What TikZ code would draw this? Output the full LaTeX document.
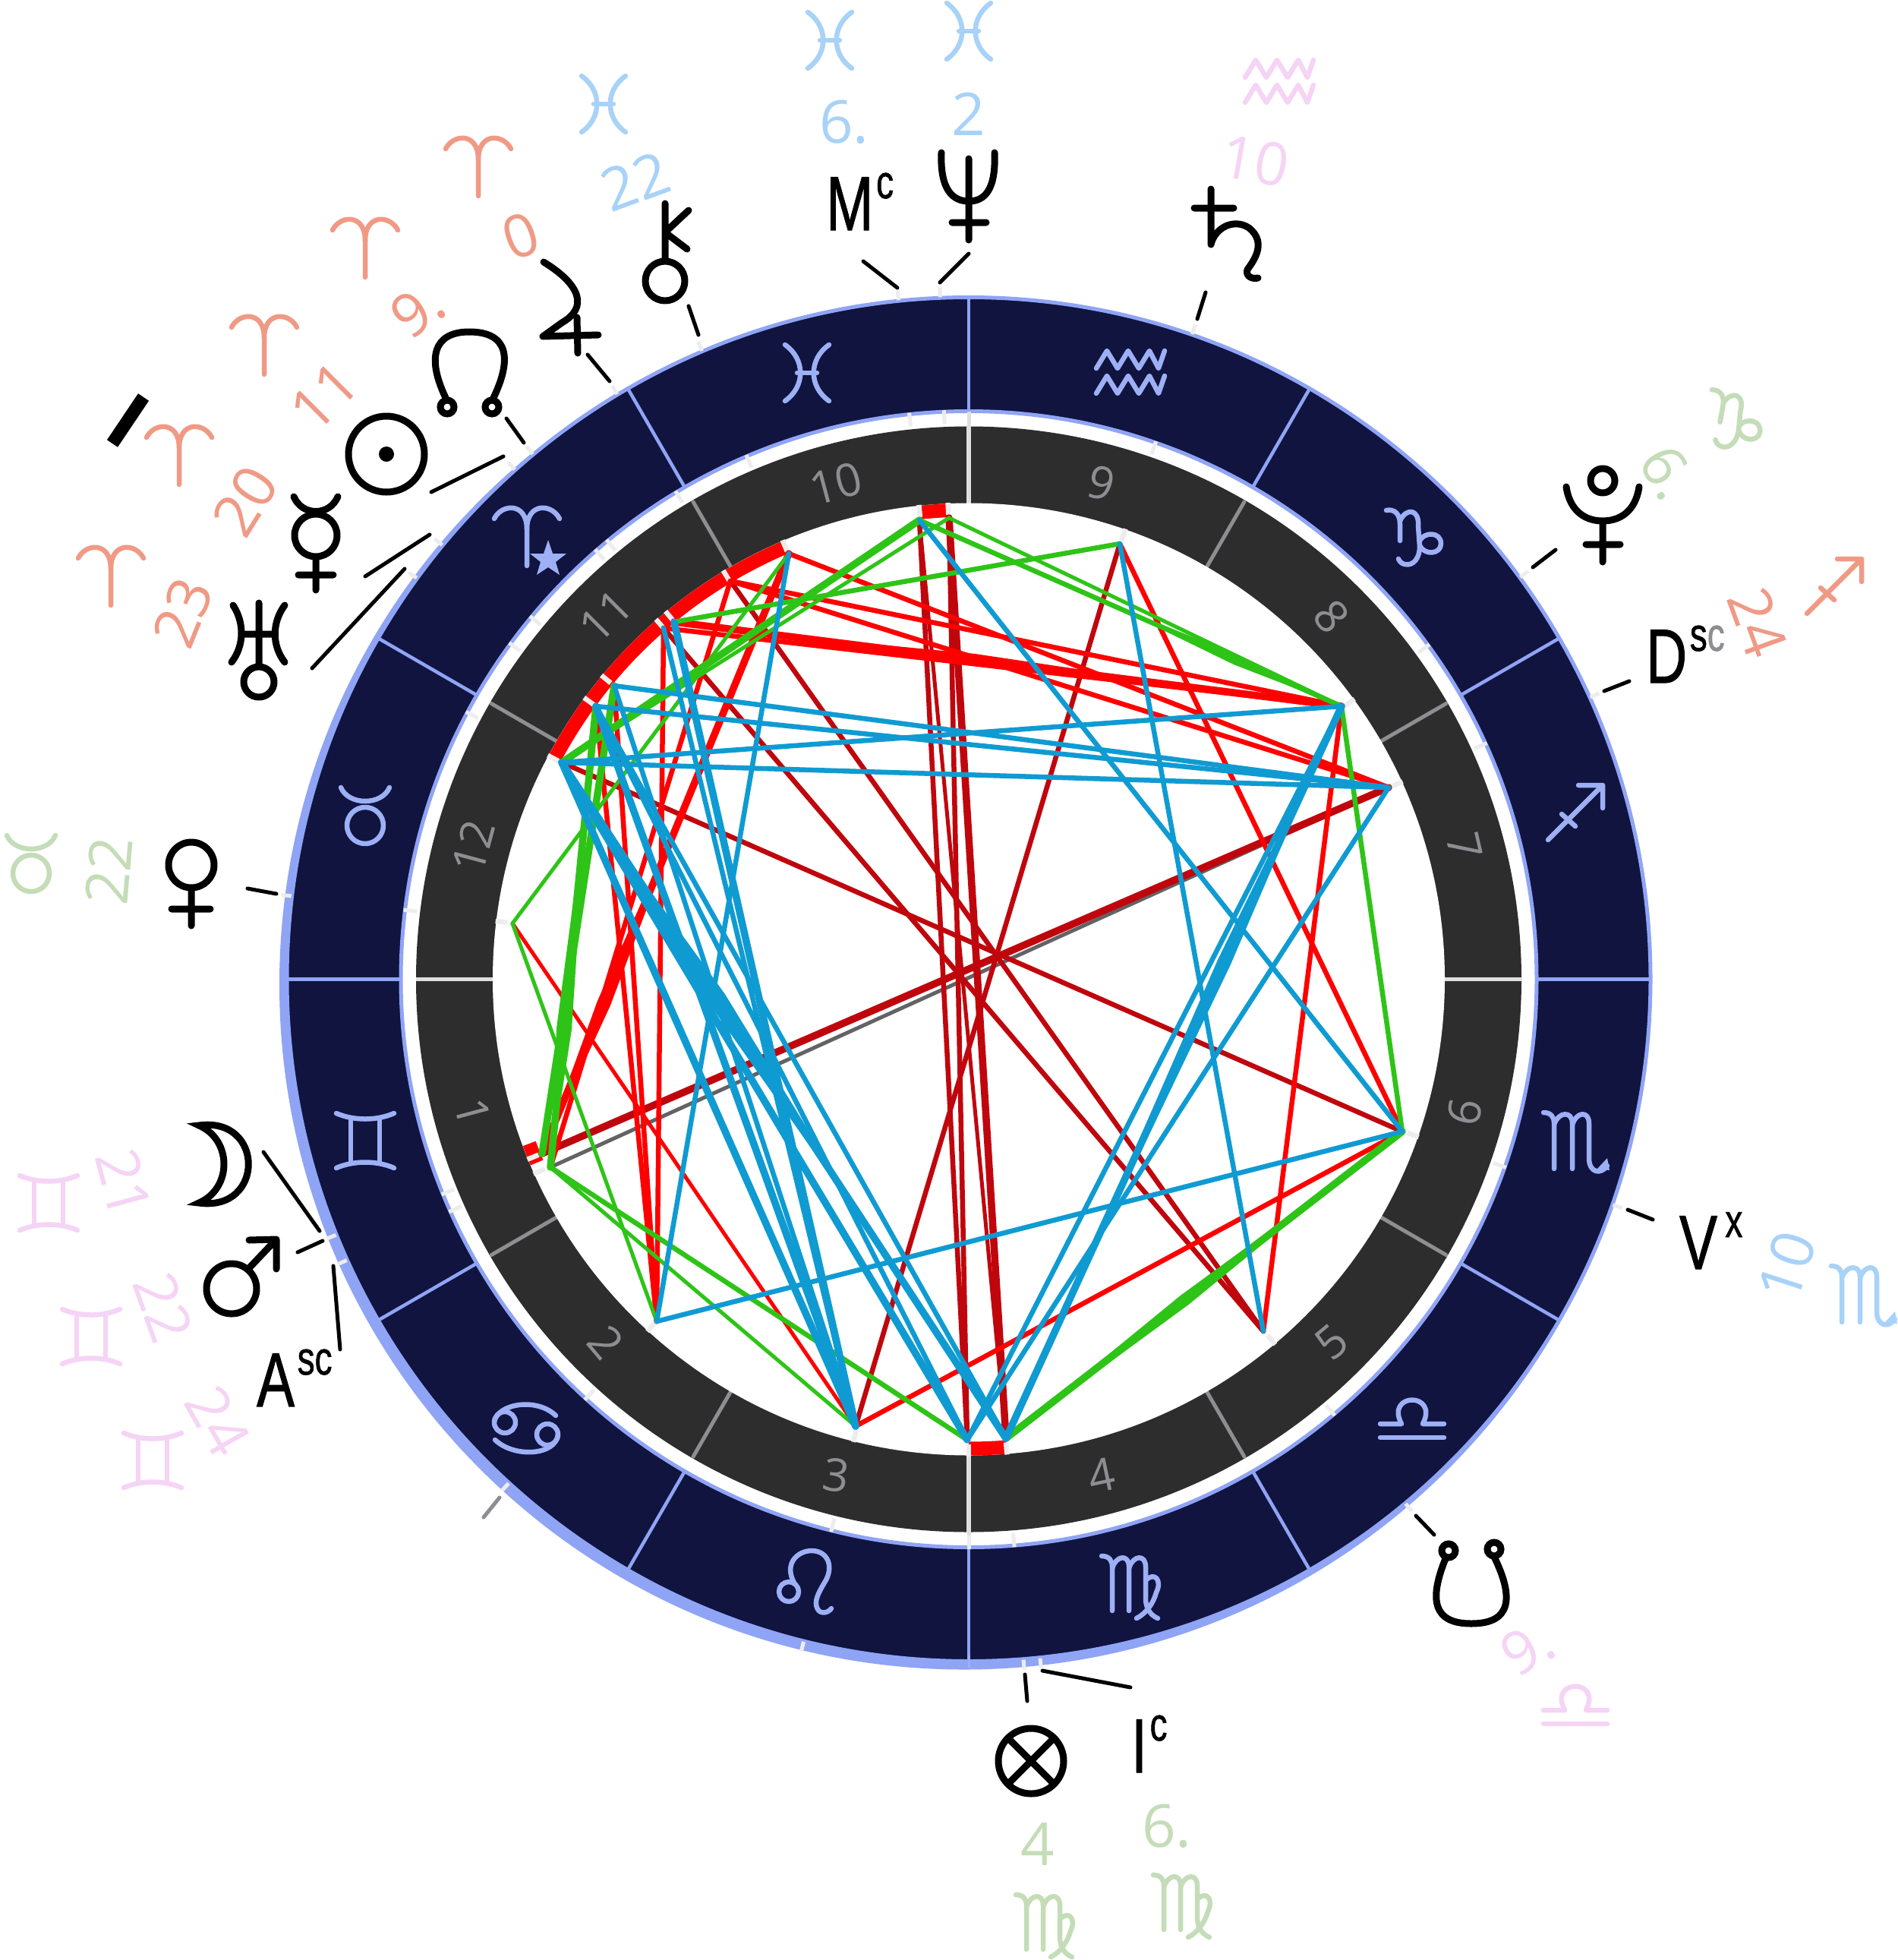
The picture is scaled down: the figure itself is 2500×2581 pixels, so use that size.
\documentclass[tikz,border=0pt]{standalone}
\usepackage{fontspec}
\usetikzlibrary{calc}
\setmainfont{Liberation Sans}
\newfontfamily\numfont{Open Sans}
\newfontfamily\labfont[FakeBold=1.2]{Liberation Sans}
\definecolor{navyring}{HTML}{10143F}
\definecolor{ringline}{HTML}{8FA4F5}
\definecolor{signblue}{HTML}{9DB0F5}
\definecolor{darkring}{HTML}{2D2D2D}
\definecolor{spokegray}{HTML}{8E8E92}
\definecolor{lightspoke}{HTML}{DEDEDE}
\definecolor{tickwhite}{HTML}{EDEDED}
\definecolor{aspred}{HTML}{FF0000}
\definecolor{aspdark}{HTML}{C0060D}
\definecolor{aspgreen}{HTML}{2EC417}
\definecolor{aspblue}{HTML}{0F9BD2}
\definecolor{aspgray}{HTML}{636366}
\definecolor{lorange}{HTML}{F09A86}
\definecolor{lblue}{HTML}{A8D2F8}
\definecolor{lpink}{HTML}{F5D4F5}
\definecolor{lgreen}{HTML}{C4DDB8}
\tikzset{
  x=1pt,y=-1pt,
  gl/.style={line width=6.5pt,line cap=round,line join=round},
  pl/.style={line width=9pt,line cap=round,line join=round,black},
  gAries/.pic={\draw[gl] (-43,-24) .. controls (-33,-44) and (0,-46) .. (0,-10) -- (0,38);
     \draw[gl] (43,-24) .. controls (33,-44) and (0,-46) .. (0,-10);},
  gTaurus/.pic={\draw[gl] (0,14) circle[radius=24pt];
     \draw[gl] (-32,-36) .. controls (-22,-12) and (22,-12) .. (32,-36);},
  gGemini/.pic={\draw[gl] (-19,-30) -- (-19,30) (19,-30) -- (19,30);
     \draw[gl] (-38,-36) .. controls (-15,-26) and (15,-26) .. (38,-36);
     \draw[gl] (-38,36) .. controls (-15,26) and (15,26) .. (38,36);},
  gCancer/.pic={\draw[gl] (-27,-9) circle[radius=14pt] (29,7) circle[radius=14pt];
     \draw[gl] (-41,-10) .. controls (-36,-34) and (15,-42) .. (40,-18);
     \draw[gl] (43,7) .. controls (40,35) and (-15,38) .. (-40,14);},
  gLeo/.pic={\draw[gl] (-22,12) circle[radius=13pt];
     \draw[gl] (-14,2) .. controls (-30,-25) and (-10,-42) .. (8,-42) .. controls (30,-42) and (38,-20) .. (25,0) .. controls (18,12) and (10,25) .. (16,35) .. controls (20,42) and (30,40) .. (34,34);},
  gVirgo/.pic={\draw[gl] (-38,-38) .. controls (-28,-38) and (-24,-32) .. (-24,-24) -- (-24,34);
     \draw[gl] (-24,-22) .. controls (-18,-40) and (-2,-40) .. (-2,-24) -- (-2,34);
     \draw[gl] (-2,-22) .. controls (4,-40) and (20,-40) .. (20,-24) -- (20,18) .. controls (20,30) and (26,40) .. (36,44);
     \draw[gl] (20,-6) .. controls (32,-18) and (42,-6) .. (34,10) .. controls (30,25) and (20,38) .. (8,44);},
  gLibra/.pic={\draw[gl] (-42,28) -- (42,28);
     \draw[gl] (-42,10) -- (-14,10) .. controls (-36,-32) and (36,-32) .. (14,10) -- (42,10);},
  gScorpio/.pic={\draw[gl] (-42,-38) .. controls (-32,-38) and (-28,-32) .. (-28,-24) -- (-28,36);
     \draw[gl] (-28,-22) .. controls (-22,-40) and (-4,-40) .. (-4,-24) -- (-4,36);
     \draw[gl] (-4,-22) .. controls (2,-40) and (18,-40) .. (18,-24) -- (18,22) .. controls (18,42) and (34,44) .. (42,32);
     \fill (42,22) -- (45,38) -- (29,36) -- cycle;},
  gSag/.pic={\draw[gl] (-36,36) -- (36,-36) (4,-36) -- (36,-36) -- (36,-6) (-18,2) -- (0,18);},
  gCap/.pic={\draw[gl] (-36,-36) .. controls (-26,-38) and (-18,-32) .. (-18,-18) -- (-18,4);
     \draw[gl] (-18,-22) .. controls (-10,-40) and (8,-38) .. (6,-15) -- (8,12) .. controls (8,26) and (0,38) .. (-12,35) .. controls (-16,34) and (-18,32) .. (-20,28);
     \draw[gl] (8,4) .. controls (14,-8) and (36,-8) .. (36,8) .. controls (36,22) and (14,24) .. (8,10);},
  gAqua/.pic={\draw[gl] (-45,-6) -- (-31,-29) -- (-17,-6) -- (-3,-29) -- (11,-6) -- (25,-29) -- (37,-6) -- (45,-29);
     \draw[gl] (-45,27) -- (-31,4) -- (-17,27) -- (-3,4) -- (11,27) -- (25,4) -- (37,27) -- (45,4);},
  gPisces/.pic={\draw[gl] (-29,-37) .. controls (-2,-18) and (-2,18) .. (-29,37);
     \draw[gl] (29,-37) .. controls (2,-18) and (2,18) .. (29,37);
     \draw[gl] (-13,0) -- (13,0);},
  num/.style={font=\numfont\fontsize{78}{78}\selectfont,inner sep=0pt},
  housenum/.style={font=\numfont\fontsize{60}{60}\selectfont,inner sep=0pt,text=spokegray},
  lab/.style={font=\labfont\fontsize{101}{101}\selectfont,inner sep=0pt,anchor=base west,xscale=.74,transform shape},
  tickline/.style={line width=5pt,line cap=round,black},
  gap/.style={line width=6.5pt,tickwhite},
  thin asp/.style={line width=5pt,line cap=round},
  mid asp/.style={line width=6.5pt,line cap=round},
  thick asp/.style={line width=9.5pt,line cap=round},
}
\newcommand\suplab[3][5pt]{#2\kern#1\raisebox{42pt}{\fontsize{62}{62}\selectfont #3}}
\newcommand\tickbetween[5]{\coordinate (#1a) at (#2,#3); \coordinate (#1b) at (#4,#5); \draw[tickline] (#1a) -- (#1b);}
% a tapered swelling of a line: colour, ends, from, middle, to, half width
\newcommand\swell[7]{\fill[#1] ($(#2)!#4!(#3)$) -- ($(#2)!#5!(#3)!#7!90:(#3)$) -- ($(#2)!#6!(#3)$) -- ($(#2)!#5!(#3)!#7!-90:(#3)$) -- cycle;}
\begin{document}
\begin{tikzpicture}
\useasboundingbox (0,0) rectangle (2500,2581);
\fill[white] (0,0) rectangle (2500,2581);
% rings
\begin{scope}[shift={(1276,1289.5)}]
 \fill[ringline] (-6,7) circle[radius=902pt];
 \fill[navyring,draw=ringline,line width=5pt] (0,0) circle[radius=898pt];
 \foreach \a in {0,30,...,330}
   \draw[ringline,line width=4.5pt] (-\a:750) -- (-\a:897);
 \fill[white,draw=ringline,line width=5pt] (0,0) circle[radius=748pt];
 \fill[darkring] (0,0) circle[radius=728pt];
 \foreach \a in {30,60,120,150,210,240,300,330}
   \draw[spokegray,line width=5pt,line cap=round] (-\a:627) -- (-\a:726);
 \foreach \a in {0,90,180,270}
   \draw[lightspoke,line width=5.5pt] (-\a:627) -- (-\a:728);
 \fill[white] (0,0) circle[radius=627pt];
 \foreach \a in {90,270}
   \draw[lightspoke,line width=5pt] (-\a:728) -- (-\a:748);
 \draw[signblue,line width=3pt] (-270:890) -- (-270:906);
 % red arcs on the inner edge
 \draw[aspred,line width=18pt] plot[domain=113:152,samples=40] ({618*cos(\x)},{-618*sin(\x)});
 \draw[aspred,line width=18pt] plot[domain=92.5:96,samples=8] ({618*cos(\x)},{-618*sin(\x)});
 \draw[aspred,line width=18pt] plot[domain=270:274.6,samples=8] ({618*cos(\x)},{-618*sin(\x)});
 \draw[aspred,line width=18pt] plot[domain=200.5:203,samples=8] ({618*cos(\x)},{-618*sin(\x)});
 % little ticks
 \foreach \a in {173,152,143.8,140.4,131,129.5,121,113,96,92.5,70.8,36,24.5,-19.3,-50,-85.4,-90,-104,-132.4,-155.9,-157.8}{
   \draw[gap] (-\a:612) -- (-\a:628);
   \draw[gap,line width=5pt] (-\a:732) -- (-\a:750);
 }
 \foreach \a in {173,144,140.5,131.7,129.7,121,113,95.9,92.4,70.9,36.1,24.4,-19.3,-50.2,-84,-85.4,-104,-132.4,-155.7,-158}
   \draw[gap,line width=5pt] (-\a:899) -- (-\a:912);
 % house numbers
 \foreach \n/\a/\r in {10/105/15,9/75/-15,8/45/-50,7/15/-77,6/-15/78,5/-45/40,4/-75/12,3/-105/-8,2/-135/-50,1/-165/-75,12/165/75,11/135/45}
   \node[housenum,rotate=\r] (house\n) at (-\a:676) {\n};
\end{scope}
% aspect points
\coordinate (J) at (675,1216);
\coordinate (A) at (740,1004);
\coordinate (B) at (785,930);
\coordinate (C) at (809,903);
\coordinate (D) at (874,827);
\coordinate (E) at (888,819);
\coordinate (F) at (962,765);
\coordinate (G) at (1039,729);
\coordinate (H) at (1211,685);
\coordinate (I) at (1250,682);
\coordinate (K) at (1475,716);
\coordinate (L) at (1767,930);
\coordinate (M) at (1829,1037);
\coordinate (N) at (1847,1490);
\coordinate (O) at (1664,1753);
\coordinate (P) at (1325,1894);
\coordinate (Q) at (1274,1896);
\coordinate (R) at (1127,1878);
\coordinate (S) at (865,1740);
\coordinate (T) at (725,1537);
\coordinate (U) at (714,1519);
% gray
\draw[aspgray,thin asp] (T) -- (M);
\draw[aspgray,mid asp] (I) -- (P);
% dark red
\draw[aspdark,thick asp] (U) -- (M);
\draw[aspdark,mid asp] (A) -- (N);
\draw[aspdark,mid asp] (H) -- (Q);
\draw[aspdark,thin asp] (H) -- (P);
\draw[aspdark,mid asp] (I) -- (Q);
\draw[aspdark,thick asp] (I) -- (P);
\draw[aspdark,mid asp] (R) -- (K);
\draw[aspdark,mid asp] (D) -- (O);
\draw[aspdark,mid asp] (F) -- (O);
% red
\draw[aspred,thick asp] (G) -- (U);
\swell{aspred}{G}{U}{.4}{.75}{1}{9pt}
\draw[aspred,mid asp] (F) -- (T);
\draw[aspred,mid asp] (D) -- (S);
\draw[aspred,mid asp] (B) -- (S);
\draw[aspred,mid asp] (C) -- (S);
\draw[aspred,thin asp] (J) -- (R);
\draw[aspred,mid asp] (G) -- (M);
\draw[aspred,mid asp] (F) -- (L);
\draw[aspred,mid asp] (F) -- (M);
\draw[aspred,thick asp] (E) -- (L);
\swell{aspred}{E}{L}{.15}{.45}{.85}{8pt}
\draw[aspred,mid asp] (D) -- (L);
\draw[aspred,mid asp] (K) -- (N);
\draw[aspred,mid asp] (L) -- (O);
\draw[aspred,mid asp] (N) -- (R);
% green
\draw[aspgreen,thin asp] (J) -- (G);
\draw[aspgreen,thin asp] (J) -- (S);
\draw[aspgreen,thick asp] (A) -- (H);
\draw[aspgreen,thin asp] (A) -- (I);
\draw[aspgreen,mid asp] (E) -- (K);
\draw[aspgreen,mid asp] (H) -- (L);
\draw[aspgreen,thin asp] (I) -- (L);
\swell{aspgreen}{H}{L}{.45}{.75}{1}{7pt}
\draw[aspgreen,thick asp] (B) -- (T);
\draw[aspgreen,thick asp] (C) -- (U);
\swell{aspgreen}{B}{T}{.2}{.7}{1}{10pt}
\draw[aspgreen,mid asp] (T) -- (Q);
\draw[aspgreen,thin asp] (T) -- (R);
\draw[aspgreen,thick asp] (N) -- (P);
\swell{aspgreen}{N}{P}{.1}{.55}{1}{8pt}
\draw[aspgreen,mid asp] (L) -- (N);
% blue
\draw[aspblue,mid asp] (C) -- (M);
\draw[aspblue,mid asp] (B) -- (M);
\draw[aspblue,mid asp] (A) -- (L);
\draw[aspblue,mid asp] (A) -- (M);
\draw[aspblue,mid asp] (M) -- (Q);
\draw[aspblue,thick asp] (L) -- (P);
\swell{aspblue}{L}{P}{0}{.35}{.85}{9pt}
\draw[aspblue,mid asp] (L) -- (Q);
\draw[aspblue,mid asp] (H) -- (N);
\draw[aspblue,mid asp] (K) -- (O);
\draw[aspblue,mid asp] (S) -- (N);
\draw[aspblue,mid asp] (S) -- (G);
\draw[aspblue,thick asp] (A) -- (P);
\draw[aspblue,thick asp] (A) -- (Q);
\draw[aspblue,thick asp] (A) -- (R);
\swell{aspblue}{A}{P}{.1}{.35}{.7}{12pt}
\draw[aspblue,mid asp] (B) -- (Q);
\draw[aspblue,thick asp] (B) -- (R);
\draw[aspblue,mid asp] (B) -- (P);
\draw[aspblue,mid asp] (C) -- (R);
\draw[aspblue,mid asp] (D) -- (R);
\draw[aspblue,thick asp] (E) -- (R);
% signs on the ring
\begin{scope}[color=signblue]
 \pic at (1063,491) {gPisces};
 \pic at (1489,491) {gAqua};
 \pic at (1862,708) {gCap};
 \pic at (2075,1070) {gSag};
 \pic at (2075,1503) {gScorpio};
 \pic at (1860,1865) {gLibra};
 \pic at (1489,2087) {gVirgo};
 \pic at (1061,2084) {gLeo};
 \pic at (692,1882) {gCancer};
 \pic at (481,1502) {gGemini};
 \pic at (481,1073) {gTaurus};
 \pic at (694,707) {gAries};
 \fill (722,711) -- (728,729) -- (746,729) -- (732,740) -- (737,757) -- (722,747) -- (707,757) -- (712,740) -- (698,729) -- (716,729) -- cycle;
\end{scope}
% outer signs
\begin{scope}[color=lorange]
 \pic at (630,220) {gAries};
 \pic at (481,327) {gAries};
 \pic at (348,455) {gAries};
 \pic at (236,600) {gAries};
 \pic at (146,759) {gAries};
 \pic at (2416,772) {gSag};
\end{scope}
\begin{scope}[color=lblue]
 \pic at (795,137) {gPisces};
 \pic at (1093,53) {gPisces};
 \pic at (1276,41) {gPisces};
 \pic at (2454,1705) {gScorpio};
\end{scope}
\begin{scope}[color=lpink]
 \pic at (1685,108) {gAqua};
 \pic at (2075,2242) {gLibra};
 \pic at (64,1584) {gGemini};
 \pic at (120,1760) {gGemini};
 \pic at (201,1923) {gGemini};
\end{scope}
\begin{scope}[color=lgreen]
 \pic[rotate=-10] at (2284,555) {gCap};
 \pic at (41,1136) {gTaurus};
 \pic at (1376,2533) {gVirgo};
 \pic at (1557,2507) {gVirgo};
\end{scope}
% degree numbers
\node[num,text=lorange,rotate=20] (n0) at (686,311) {0};
\node[num,text=lorange,rotate=35] (n9) at (550,408) {9.};
\node[num,text=lorange,rotate=45] (n11) at (427,522) {11};
\node[num,text=lorange,rotate=58] (n20) at (323,660) {20};
\node[num,text=lorange,rotate=68] (n23) at (241,807) {23};
\node[num,text=lorange,rotate=-70] (n24) at (2315,820) {24};
\node[num,text=lblue,rotate=20] (n22b) at (837,239) {22};
\node[num,text=lblue] (n6b) at (1112,161) {6.};
\node[num,text=lblue] (n2b) at (1276,150) {2};
\node[num,text=lblue,rotate=72] (n10b) at (2354,1667) {10};
\node[num,text=lpink,rotate=-10] (n10p) at (1653,212) {10};
\node[num,text=lpink,rotate=30] (n9p) at (2012,2170) {9.};
\node[num,text=lpink,rotate=-75] (n21p) at (163,1558) {21};
\node[num,text=lpink,rotate=-70] (n22p) at (215,1722) {22};
\node[num,text=lpink,rotate=-60] (n24p) at (287,1871) {24};
\node[num,text=lgreen,rotate=-60] (n6g) at (2197,622) {6.};
\node[num,text=lgreen,rotate=85] (n22g) at (143,1147) {22};
\node[num,text=lgreen] (n4g) at (1367,2428) {4};
\node[num,text=lgreen] (n6g2) at (1537,2405) {6.};
% labels
\node[lab] (mc) at (1088,303) {\suplab{M}{c}};
\node[lab] (dsc) at (2168,899) {\suplab{D}{s\textcolor{spokegray}{c}}};
\node[lab] (asc) at (338,1852) {\suplab{A}{sc}};
\node[lab] (vx) at (2212,1671) {\suplab[14pt]{V}{x}};
\node[lab] (ic) at (1490,2334) {\suplab{I}{c}};
% ticks to the planets
\tickbetween{mc}{1137}{344}{1182}{379}
\tickbetween{nep}{1276}{334}{1238}{372}
\tickbetween{sat}{1588}{385}{1577}{420}
\tickbetween{plu}{2049}{724}{2019}{747}
\tickbetween{dsc}{2146}{897}{2113}{910}
\tickbetween{vx}{2177}{1606}{2144}{1593}
\tickbetween{sno}{1889}{2021}{1865}{1996}
\tickbetween{ic}{1489}{2222}{1373}{2200}
\tickbetween{pf}{1353}{2240}{1350}{2205}
\tickbetween{asc}{448}{1777}{439}{1667}
\tickbetween{mar}{392}{1649}{425}{1634}
\tickbetween{moo}{347}{1517}{421}{1621}
\tickbetween{ven}{326}{1170}{364}{1177}
\tickbetween{ura}{411}{880}{533}{749}
\tickbetween{mer}{481}{759}{566}{704}
\tickbetween{sun}{568}{648}{663}{601}
\tickbetween{nno}{667}{551}{690}{583}
\tickbetween{jup}{774}{467}{803}{502}
\tickbetween{chi}{907}{403}{920}{441}
\coordinate (gra) at (637,1998); \coordinate (grb) at (658,1972);
\draw[tickline,spokegray] (gra) -- (grb);
% planet glyphs
\draw[line width=17pt,black] (189,523) -- (148,584); % bar
\draw[pl] (509,598) circle[radius=50pt]; \fill (509,598) circle[radius=10pt]; % sun
\draw[pl] (416,705) circle[radius=28pt] (416,733) -- (416,777) (393,757) -- (439,757);
\draw[pl] (387,654) .. controls (398,680) and (434,680) .. (445,654); % mercury
\draw[pl] (252,1139) circle[radius=30pt] (252,1169) -- (252,1219) (226,1197) -- (277,1197); % venus
\draw[pl] (305,1697) circle[radius=33pt] (327,1671) -- (363,1633) (328,1633) -- (364,1632) -- (364,1671); % mars
\draw[line width=9pt,black,line join=miter] (262,1482) .. controls (349,1470) and (349,1596) .. (262,1584) .. controls (306,1565) and (306,1501) .. (262,1482) -- cycle; % moon
\draw[pl] (716,345) .. controls (765,375) and (775,405) .. (740,425) -- (715,443) -- (788,441) (760,418) -- (761,465); % jupiter
\draw[pl] (876,370) circle[radius=26pt] (876,268) -- (876,342) (907,277) -- (876,306) -- (905,328); % chiron
\draw[pl] (1595,249) -- (1595,322) .. controls (1600,300) and (1625,287) .. (1645,300) .. controls (1670,320) and (1650,345) .. (1643,355) .. controls (1640,364) and (1650,368) .. (1657,366) (1573,274) -- (1625,274); % saturn
\draw[pl] (1276,209) -- (1276,316) (1254,293) -- (1299,293) (1240,201) .. controls (1238,250) and (1255,265) .. (1276,265) .. controls (1297,265) and (1312,250) .. (1310,201); % neptune
\draw[pl] (341,794) -- (341,874) (319,835) -- (359,835) (341,898) circle[radius=20pt];
\draw[pl] (307,797) .. controls (322,820) and (322,850) .. (305,872) (375,797) .. controls (358,820) and (358,850) .. (375,872); % uranus
\draw[pl] (2111,633) circle[radius=16pt] (2063,641) .. controls (2068,675) and (2090,686) .. (2111,686) .. controls (2132,686) and (2154,675) .. (2159,641) (2111,686) -- (2111,740) (2089,717) -- (2134,717); % pluto
\draw[pl] (589,528) .. controls (560,470) and (572,437) .. (618,437) .. controls (668,437) and (677,470) .. (648,528); % north node
\draw[line width=9pt,black,fill=white] (589,536) circle[radius=9pt] (648,536) circle[radius=9pt];
\draw[pl] (1905,2050) .. controls (1880,2110) and (1890,2138) .. (1938,2138) .. controls (1990,2138) and (1995,2105) .. (1968,2050); % south node
\draw[line width=9pt,black,fill=white] (1908,2042) circle[radius=9pt] (1968,2040) circle[radius=9pt];
\draw[pl] (1358,2319) circle[radius=43pt] (1328,2289) -- (1388,2349) (1388,2289) -- (1328,2349); % part of fortune
\end{tikzpicture}
\end{document}
